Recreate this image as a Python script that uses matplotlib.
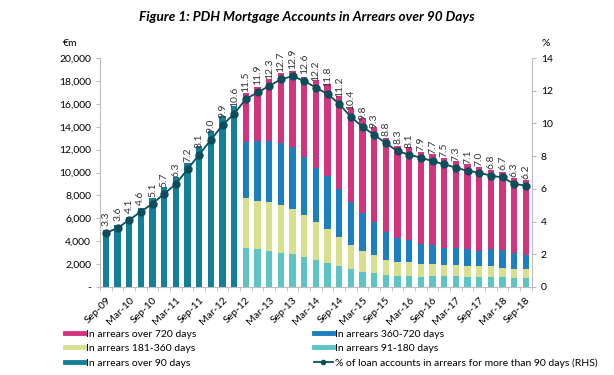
import matplotlib as mpl
mpl.use('Agg')
import matplotlib.pyplot as plt
from matplotlib.lines import Line2D
import numpy as np

# ── Data (€m, quarterly Sep-09 .. Sep-18) ────────────────────────────────
quarters = ['Sep-09', 'Dec-09', 'Mar-10', 'Jun-10', 'Sep-10', 'Dec-10', 'Mar-11',
            'Jun-11', 'Sep-11', 'Dec-11', 'Mar-12', 'Jun-12', 'Sep-12', 'Dec-12',
            'Mar-13', 'Jun-13', 'Sep-13', 'Dec-13', 'Mar-14', 'Jun-14', 'Sep-14',
            'Dec-14', 'Mar-15', 'Jun-15', 'Sep-15', 'Dec-15', 'Mar-16', 'Jun-16',
            'Sep-16', 'Dec-16', 'Mar-17', 'Jun-17', 'Sep-17', 'Dec-17', 'Mar-18',
            'Jun-18', 'Sep-18']

# before Sep-12 only the total over 90 days is available
over_90 = [4980, 5420, 6150, 6930, 7810, 8770, 9640, 10870, 12350, 13660, 14950, 15820]

# breakdown from Sep-12 onwards
d91_180 = [3410, 3290, 3150, 3000, 2860, 2620, 2330, 2130, 1840, 1550, 1280, 1200,
           1020, 960, 930, 870, 930, 930, 930, 870, 850, 850, 820, 790, 790]
d181_360 = [4350, 4230, 4230, 4170, 3960, 3650, 3330, 2970, 2530, 2120, 1830, 1550,
            1310, 1230, 1260, 1110, 1050, 970, 940, 970, 960, 960, 840, 810, 760]
d360_720 = [4950, 5250, 5390, 5400, 5420, 5100, 4720, 4610, 4200, 3710, 3340, 2880,
            2450, 2100, 1890, 1750, 1640, 1540, 1510, 1430, 1340, 1480, 1550, 1370, 1220]
d720 = [4230, 4720, 5390, 6090, 6650, 7000, 7700, 8070, 8140, 8220, 8330, 8330,
        8250, 8010, 8110, 8080, 7980, 7840, 7610, 7460, 7350, 6910, 6820, 6590, 6560]

# % of loan accounts in arrears > 90 days (RHS)
pct = [3.3, 3.6, 4.1, 4.6, 5.1, 5.7, 6.3, 7.2, 8.1, 9.0, 9.9, 10.6, 11.5, 11.9, 12.3,
       12.7, 12.9, 12.6, 12.2, 11.8, 11.2, 10.4, 9.8, 9.3, 8.8, 8.3, 8.1, 7.9, 7.7,
       7.5, 7.3, 7.1, 7.0, 6.8, 6.7, 6.3, 6.2]

# ── Style ────────────────────────────────────────────────────────────────
C_720 = '#d1357e'
C_360 = '#1b7fc0'
C_181 = '#d7e08c'
C_91 = '#5cc4c4'
C_90 = '#137f99'
C_LINE = '#0c4d5c'
C_AX = '#bdbdbd'

plt.rcParams['font.family'] = ['Lato', 'DejaVu Sans']
plt.rcParams['font.size'] = 7.5

fig = plt.figure(figsize=(6.14, 3.75), dpi=100)
ax = fig.add_axes([0.163, 0.235, 0.703, 0.610])

x = np.arange(len(quarters))
n0 = len(over_90)
xb = x[n0:]
w = 0.55

ax.bar(x[:n0], over_90, width=w, color=C_90, zorder=2)
bottom = np.zeros(len(xb))
for vals, col in [(d91_180, C_91), (d181_360, C_181), (d360_720, C_360), (d720, C_720)]:
    ax.bar(xb, vals, width=w, bottom=bottom, color=col, zorder=2)
    bottom = bottom + np.array(vals)

ax.set_ylim(0, 20000)
ax.set_xlim(-0.5, len(quarters) - 0.5)
ax.set_yticks(range(0, 20001, 2000))
ax.set_yticklabels(['-'] + [f'{v:,}' for v in range(2000, 20001, 2000)])

ax.set_xticks(x[::2])
ax.set_xticklabels(quarters[::2], rotation=45, ha='right', rotation_mode='anchor')
ax.set_xticks(np.arange(-0.5, len(quarters), 1), minor=True)
ax.tick_params(axis='x', which='major', length=0, pad=6)
ax.tick_params(axis='x', which='minor', length=3, color=C_AX)
ax.tick_params(axis='y', length=3, color=C_AX)

for s in ['top', 'right']:
    ax.spines[s].set_visible(False)
for s in ['left', 'bottom']:
    ax.spines[s].set_color(C_AX)

ax2 = ax.twinx()
ax2.set_ylim(0, 14)
ax2.set_yticks(range(0, 15, 2))
ax2.tick_params(axis='y', length=3, color=C_AX)
for s in ['top', 'left', 'bottom']:
    ax2.spines[s].set_visible(False)
ax2.spines['right'].set_color(C_AX)
ax2.plot(x, pct, '-o', color=C_LINE, lw=1.3, ms=5, zorder=3)
for xi, p in zip(x, pct):
    ax2.annotate(f'{p:.1f}', xy=(xi, p), xytext=(0, 5), textcoords='offset points',
                 rotation=90, ha='center', va='bottom', fontsize=7.5, color='#333333')

fig.text(0.5, 0.955, 'Figure 1: PDH Mortgage Accounts in Arrears over 90 Days',
         ha='center', va='center', fontsize=9.8, fontweight='bold', fontstyle='italic')
fig.text(0.115, 0.883, '€m', ha='center', va='center', fontsize=7.5)
fig.text(0.888, 0.883, '%', ha='center', va='center', fontsize=7.5)

handles = [
    Line2D([], [], color=C_720, lw=3.5, label='In arrears over 720 days'),
    Line2D([], [], color=C_181, lw=3.5, label='In arrears 181-360 days'),
    Line2D([], [], color=C_90, lw=3.5, label='In arrears over 90 days'),
    Line2D([], [], color=C_360, lw=3.5, label='In arrears 360-720 days'),
    Line2D([], [], color=C_91, lw=3.5, label='In arrears 91-180 days'),
    Line2D([], [], color=C_LINE, marker='o', ms=3, lw=1.3,
           label='% of loan accounts in arrears for more than 90 days (RHS)'),
]
fig.legend(handles=handles, ncol=2, loc='upper left', bbox_to_anchor=(0.106, 0.122),
           frameon=False, fontsize=7.5, handlelength=1.8,
           columnspacing=11.3, labelspacing=0.5, handletextpad=0.2,
           borderaxespad=0, borderpad=0)

fig.savefig('out.png', dpi=100)
